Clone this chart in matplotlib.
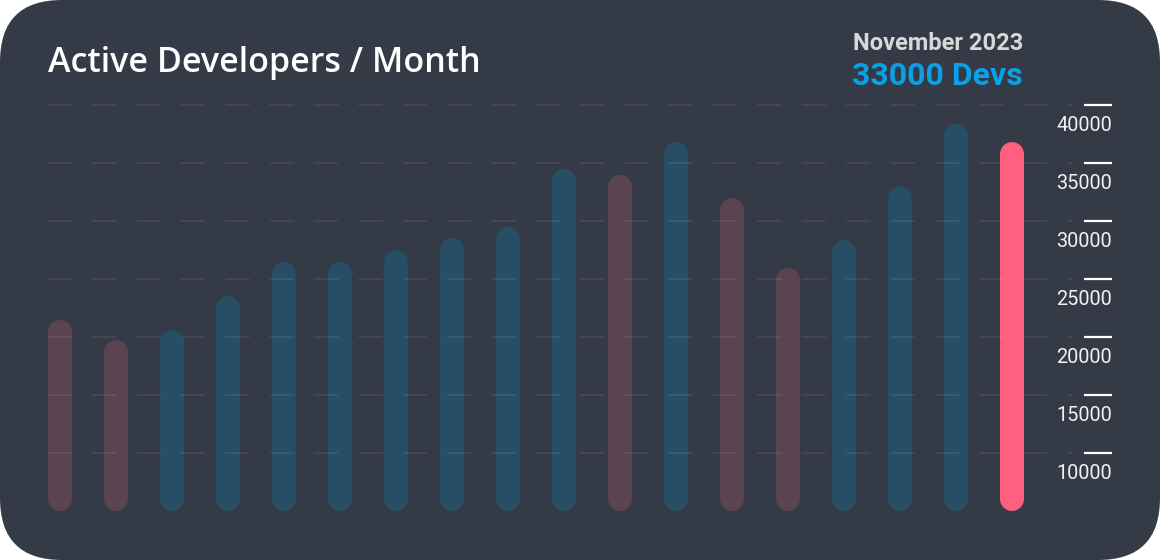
import numpy as np
import matplotlib.pyplot as plt
from matplotlib.patches import FancyBboxPatch
from matplotlib.transforms import ScaledTranslation

# monthly active developers (value at the tip of each bar)
devs = [21400, 19700, 20600, 23500, 26400, 26400, 27500, 28500, 29500,
        34500, 33900, 36800, 32000, 25900, 28300, 33000, 38300, 36800]
yticks = [10000, 15000, 20000, 25000, 30000, 35000, 40000]
title = 'Active Developers / Month'
month = 'November 2023'
current = '33000 Devs'

bg = '#343a46'
c_up = '#284e66'
c_down = '#5c4350'
c_now = '#ff6080'

W, H = 1160, 560
fig = plt.figure(figsize=(W / 100, H / 100), dpi=100)
fig.patch.set_facecolor('white')

# card behind everything, in pixel units
card = fig.add_axes([0, 0, 1, 1], zorder=-1)
card.set_xlim(0, W)
card.set_ylim(0, H)
card.axis('off')
card.add_patch(FancyBboxPatch((0, 0), W, H, boxstyle='round,pad=0,rounding_size=62',
                              fc=bg, ec='none'))

# plot area in pixels
left, right = 48, 1112
px_per_unit = 58 / 5000
ylo, yhi = 5000, 40600
y_bot = 510.7
y_top = y_bot - (yhi - ylo) * px_per_unit
ax = fig.add_axes([left / W, (H - y_bot) / H, (right - left) / W, (y_bot - y_top) / H])
ax.set_facecolor('none')
for s in ax.spines.values():
    s.set_visible(False)

step = 56
x0 = 60
ax.set_xlim((left - x0) / step, (right - x0) / step)
ax.set_ylim(ylo, yhi)

# bars as thick round-capped lines; cap radius converted to data units
r = 12
r_data = r / px_per_unit
lw = 2 * r * 0.72
for i, v in enumerate(devs):
    if i == len(devs) - 1:
        col = c_now
    elif i == 0 or v < devs[i - 1]:
        col = c_down
    else:
        col = c_up
    ax.plot([i, i], [ylo + r_data, v - r_data], color=col, lw=lw,
            solid_capstyle='round', clip_on=False, zorder=2)

# dashed grid stopping before the tick marks
gx = (1072 - left) / (right - left)
for t in yticks:
    ax.axhline(t, xmin=0, xmax=gx, color='white', alpha=0.07, lw=1.4,
               dashes=(12.5, 10.3), zorder=3)

ax.yaxis.tick_right()
ax.set_yticks(yticks)
ax.set_xticks([])
ax.tick_params(axis='y', direction='in', length=20, width=1.6, color='white',
               labelright=False, labelleft=False)

lab_tr = ax.get_yaxis_transform() + ScaledTranslation(0, -0.205, fig.dpi_scale_trans)
for t in yticks:
    ax.text(1.0, t, str(t), transform=lab_tr, ha='right', va='center',
            fontsize=14.3, color='#f2f2f2', family='Roboto')

fig.text(48 / W, 1 - 72 / H, title, fontsize=24.5, color='white',
         family='Open Sans', weight=600, va='baseline', ha='left')
fig.text(1023 / W, 1 - 50 / H, month, fontsize=17, color='#d8d8d8',
         family='Roboto', weight='bold', va='baseline', ha='right')
fig.text(1023 / W, 1 - 85 / H, current, fontsize=23, color='#0aa0e6',
         family='Roboto', weight='bold', va='baseline', ha='right')

fig.savefig('out.png', dpi=100, facecolor=fig.get_facecolor())
